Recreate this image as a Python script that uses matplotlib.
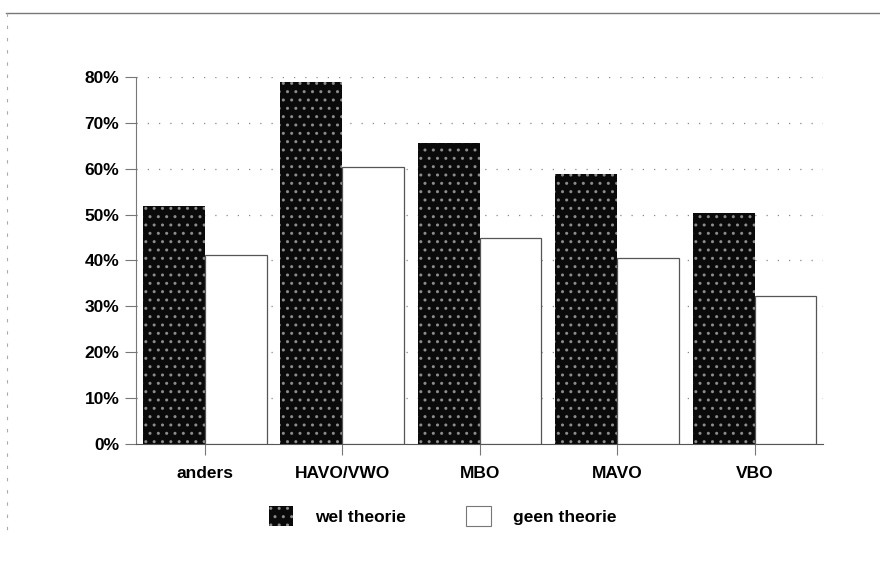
import matplotlib
matplotlib.use("Agg")
import matplotlib.pyplot as plt
import numpy as np
from matplotlib.lines import Line2D
from matplotlib.patches import Patch
from matplotlib.ticker import PercentFormatter

plt.rcParams["font.family"] = ["Liberation Sans", "DejaVu Sans"]
plt.rcParams["hatch.linewidth"] = 1.0

categories = ["anders", "HAVO/VWO", "MBO", "MAVO", "VBO"]
wel_theorie = [51.9, 78.8, 65.5, 58.8, 50.4]
geen_theorie = [41.2, 60.3, 44.8, 40.5, 32.2]
series_names = ["wel theorie", "geen theorie"]

fig = plt.figure(figsize=(8.8, 5.82), dpi=100)
ax = fig.add_axes([0.1545, 0.237, 0.781, 0.631])

x = np.arange(len(categories))
w = 0.45
ax.bar(x - w / 2, wel_theorie, width=w, facecolor="#0a0a0a",
       edgecolor="#8c8c8c", hatch="..", linewidth=0, zorder=3)
ax.bar(x + w / 2, geen_theorie, width=w, facecolor="white",
       edgecolor="#555555", linewidth=0.9, zorder=3)

ax.set_xlim(-0.5, len(categories) - 0.5)
ax.set_ylim(0, 80)
ax.set_yticks(np.arange(0, 81, 10))
ax.yaxis.set_major_formatter(PercentFormatter(decimals=0))
ax.set_xticks(x)
ax.set_xticklabels(categories)
ax.yaxis.grid(True, linestyle=(0, (1, 8)), color="#888888", linewidth=0.9, zorder=0)

for side in ("top", "right"):
    ax.spines[side].set_visible(False)
ax.spines["left"].set_color("#777777")
ax.spines["bottom"].set_color("#555555")
ax.tick_params(axis="y", length=8, width=0.8, color="#777777", labelsize=12.5, pad=4)
ax.tick_params(axis="x", length=8, width=0.8, color="#777777", labelsize=12.5, pad=8)
for lbl in ax.get_xticklabels() + ax.get_yticklabels():
    lbl.set_fontweight("bold")

# outer frame of the page
fig.add_artist(Line2D([0.007, 1.0], [1 - 13 / 582, 1 - 13 / 582],
                      transform=fig.transFigure, color="#777777", linewidth=1.0))
fig.add_artist(Line2D([0.008, 0.008], [1 - 13 / 582, 0.08],
                      transform=fig.transFigure, color="#aaaaaa",
                      linewidth=0.8, linestyle=(0, (3, 8))))

handles = [
    Patch(facecolor="#0a0a0a", edgecolor="#8c8c8c", hatch="..", linewidth=0),
    Patch(facecolor="white", edgecolor="#777777", linewidth=0.8),
]
leg = fig.legend(handles, series_names, loc="center", bbox_to_anchor=(0.503, 0.113),
                 ncol=2, frameon=False, fontsize=12.5, handlelength=1.4, handleheight=1.4,
                 handletextpad=1.3, columnspacing=3.45)
for t in leg.get_texts():
    t.set_fontweight("bold")

fig.savefig("out.png", dpi=100)
